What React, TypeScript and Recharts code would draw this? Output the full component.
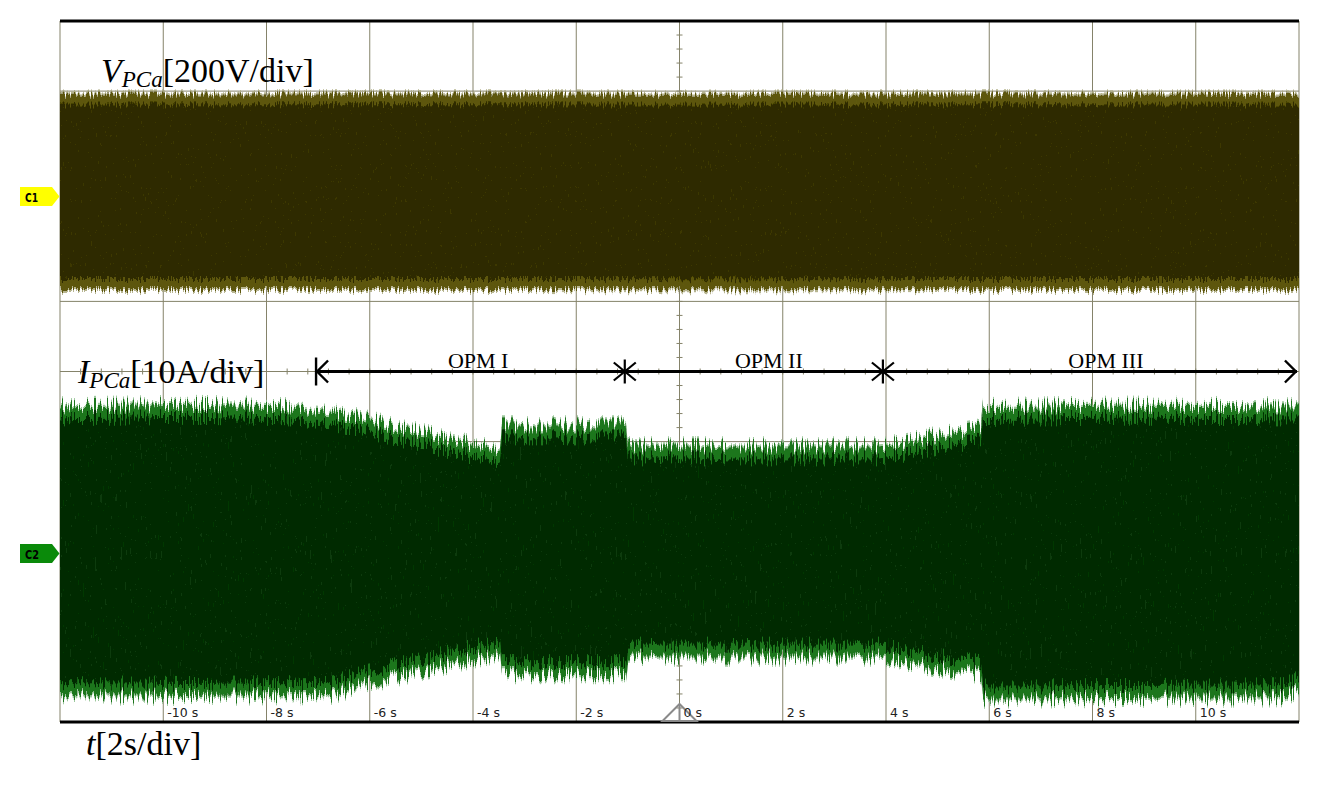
import React from "react";
import {
    ComposedChart,
    Area,
    XAxis,
    YAxis,
    CartesianGrid,
    ReferenceLine,
    ReferenceDot,
} from "recharts";

// time axis, 2 s/div, 12 divisions
const timeTicks = [-12, -10, -8, -6, -4, -2, 0, 2, 4, 6, 8, 10, 12];
// screen divisions, 10 vertically
const divTicks = [-5, -4, -3, -2, -1, 0, 1, 2, 3, 4, 5];

// C1 voltage envelope (V)
const voltageTime = [-12, -6, 0, 6, 12];
const voltageUpper = [283, 284, 283, 284, 283];
const voltageLower = [-283, -283, -284, -283, -283];

// C2 current envelope (A)
const currentTime = [-12, -9.5, -7.54, -6.77, -5.99, -5.03, -4.06, -3.48, -3.44, -1.04, -1.0, 3.88, 4.27, 4.85, 5.43, 5.84, 5.88, 8.5, 11.74, 12];
const currentUpper = [20.9, 21.1, 20.9, 20.2, 18.9, 17.2, 15.5, 14.6, 18.2, 18.2, 15.2, 15.2, 15.6, 16.5, 17.2, 17.8, 20.8, 21.0, 20.9, 20.9];
const currentLower = [-20.9, -21.0, -20.9, -20.9, -19.2, -17.5, -15.8, -14.9, -17.9, -17.9, -15.4, -15.4, -16.1, -16.8, -17.5, -17.9, -21.4, -21.3, -21.2, -19.9];

// operating modes
const modeNames = ["OPM I", "OPM II", "OPM III"];
const modeLabelTime = [-3.9, 1.73, 8.26];
const modeBounds = [-7.04, -1.06, 3.94, 11.96];

const voltageData = voltageTime.map((t, i) => ({ t, lo: voltageLower[i], hi: voltageUpper[i] }));
const currentData = currentTime.map((t, i) => ({ t, lo: currentLower[i], hi: currentUpper[i] }));

const W = 1323;
const H = 785;
const MARGIN = { top: 20, right: 24, bottom: 62, left: 60 };
const GRID = "#85836a";
const SERIF = "'Liberation Serif', 'Times New Roman', serif";
const SANS = "'DejaVu Sans', sans-serif";

const TimeTick = (props: any) => {
    const { x, y, payload } = props;
    const v = payload.value;
    if (Math.abs(v) === 12) return <g />;
    return (
        <text x={x + 4} y={y - 5} fontSize={12.5} fill="#222" fontFamily={SANS}>
            {`${v} s`}
        </text>
    );
};

const NoTick = () => <g />;

// center crosshair with minor ticks
const CrossH = (props: any) => {
    const { x1, y1, x2 } = props;
    const step = (x2 - x1) / 60;
    const ticks = [];
    for (let k = 1; k < 60; k++) {
        ticks.push(<line key={k} x1={x1 + k * step} x2={x1 + k * step} y1={y1 - 3} y2={y1 + 3} />);
    }
    return (
        <g stroke={GRID} strokeWidth={1}>
            <line x1={x1} x2={x2} y1={y1} y2={y1} />
            {ticks}
        </g>
    );
};

const CrossV = (props: any) => {
    const { x1, y1, y2 } = props;
    const top = Math.min(y1, y2);
    const step = Math.abs(y2 - y1) / 50;
    const ticks = [];
    for (let k = 1; k < 50; k++) {
        ticks.push(<line key={k} y1={top + k * step} y2={top + k * step} x1={x1 - 3} x2={x1 + 3} />);
    }
    return (
        <g stroke={GRID} strokeWidth={1}>
            <line x1={x1} x2={x1} y1={y1} y2={y2} />
            {ticks}
        </g>
    );
};

const StartMark = ({ cx, cy }: any) => (
    <g stroke="#000" strokeWidth={2.4} fill="none">
        <line x1={cx} x2={cx} y1={cy - 14} y2={cy + 14} />
        <polyline points={`${cx + 12},${cy - 11} ${cx + 1},${cy} ${cx + 12},${cy + 11}`} />
    </g>
);

const EndMark = ({ cx, cy }: any) => (
    <g stroke="#000" strokeWidth={2.4} fill="none">
        <polyline points={`${cx - 12},${cy - 11} ${cx - 1},${cy} ${cx - 12},${cy + 11}`} />
    </g>
);

const StarMark = ({ cx, cy }: any) => (
    <g stroke="#000" strokeWidth={2.2}>
        <line x1={cx} x2={cx} y1={cy - 12} y2={cy + 12} />
        <line x1={cx - 11} x2={cx + 11} y1={cy - 9} y2={cy + 9} />
        <line x1={cx - 11} x2={cx + 11} y1={cy + 9} y2={cy - 9} />
    </g>
);

const ModeLabel = (name: string) => ({ cx, cy }: any) => (
    <text x={cx} y={cy - 4} textAnchor="middle" fontSize={22} fontFamily={SERIF} fill="#000">
        {name}
    </text>
);

const Trigger = ({ cx, cy }: any) => (
    <g stroke="#8a8a8a" strokeWidth={2} fill="none">
        <polygon points={`${cx},${cy - 18} ${cx - 17},${cy - 1} ${cx + 17},${cy - 1}`} />
        <line x1={cx} x2={cx} y1={cy - 18} y2={cy - 1} />
    </g>
);

// jagged envelope edge with a brighter rim and pale spike tips
const roughFilter = (
    id: string,
    seed: number,
    freq: string,
    scale: number,
    rim: number,
    rimColor: string,
    tipColor: string
) => (
    <filter id={id} filterUnits="userSpaceOnUse" x={0} y={0} width={W} height={H}>
        <feTurbulence type="fractalNoise" baseFrequency={freq} numOctaves={2} seed={seed} result="noise" />
        <feColorMatrix
            in="noise"
            type="matrix"
            values="0 0 0 0 0.5  0 0 0 0 0  0 0 2.6 0 -0.8  0 0 0 0 1"
            result="disp"
        />
        <feDisplacementMap in="SourceGraphic" in2="disp" scale={scale} xChannelSelector="R" yChannelSelector="B" result="shape" />
        <feMorphology in="shape" operator="erode" radius="0 2" result="core2" />
        <feMorphology in="shape" operator="erode" radius={`0 ${rim}`} result="coreR" />
        <feComposite in="shape" in2="core2" operator="out" result="outer" />
        <feComposite in="core2" in2="coreR" operator="out" result="mid" />
        <feFlood floodColor={rimColor} floodOpacity={0.7} result="rimFill" />
        <feComposite in="rimFill" in2="mid" operator="in" result="midCol" />
        <feFlood floodColor={tipColor} floodOpacity={0.85} result="tipFill" />
        <feComposite in="tipFill" in2="outer" operator="in" result="outerCol" />
        <feMerge>
            <feMergeNode in="core2" />
            <feMergeNode in="midCol" />
            <feMergeNode in="outerCol" />
        </feMerge>
    </filter>
);

// shared axes so both layers get the same plot box
const axes = (withBorders: boolean) => [
    <XAxis
        key="xb"
        xAxisId="t"
        type="number"
        dataKey="t"
        domain={[-12, 12]}
        ticks={timeTicks}
        allowDataOverflow
        height={1}
        tickSize={0}
        tickMargin={0}
        tickLine={false}
        axisLine={withBorders ? { stroke: "#000", strokeWidth: 3 } : false}
        tick={withBorders ? <TimeTick /> : <NoTick />}
        interval={0}
    />,
    <XAxis
        key="xt"
        xAxisId="top"
        orientation="top"
        type="number"
        dataKey="t"
        domain={[-12, 12]}
        allowDataOverflow
        height={1}
        tick={false}
        tickLine={false}
        axisLine={withBorders ? { stroke: "#000", strokeWidth: 3 } : false}
    />,
    <YAxis
        key="yl"
        yAxisId="div"
        type="number"
        domain={[-5, 5]}
        ticks={divTicks}
        allowDataOverflow
        width={0}
        tick={<NoTick />}
        tickLine={false}
        axisLine={withBorders ? { stroke: "#8a8a80", strokeWidth: 1.5 } : false}
    />,
    <YAxis
        key="yr"
        yAxisId="divR"
        orientation="right"
        type="number"
        domain={[-5, 5]}
        allowDataOverflow
        width={0}
        tick={false}
        tickLine={false}
        axisLine={withBorders ? { stroke: "#9a9a9a", strokeWidth: 2 } : false}
    />,
    <YAxis key="yv" yAxisId="v" hide type="number" domain={[-1513, 487]} allowDataOverflow />,
    <YAxis key="yi" yAxisId="i" hide type="number" domain={[-24.43, 75.57]} allowDataOverflow />,
];

const layer: React.CSSProperties = { position: "absolute", left: 0, top: 0 };

export default function App() {
    return (
        <div style={{ position: "absolute", left: 0, top: 0, width: W, height: H, background: "#fff" }}>
            {/* graticule layer, under the traces */}
            <div style={layer}>
                <ComposedChart width={W} height={H} margin={MARGIN}>
                    {axes(false)}
                    <CartesianGrid xAxisId="t" yAxisId="div" stroke={GRID} strokeWidth={1} />
                    <ReferenceLine xAxisId="t" yAxisId="div" y={0} shape={<CrossH />} />
                    <ReferenceLine xAxisId="t" yAxisId="div" x={0} shape={<CrossV />} />
                </ComposedChart>
            </div>

            {/* traces and annotations */}
            <div style={layer}>
                <ComposedChart width={W} height={H} margin={MARGIN}>
                    <defs>
                        <pattern id="texC1" patternUnits="userSpaceOnUse" width={5} height={11}>
                            <rect width={5} height={11} fill="#2d2a01" />
                            <line x1={1} x2={1} y1={0} y2={4} stroke="#4c4706" strokeWidth={1} />
                            <line x1={3.5} x2={3.5} y1={6} y2={10} stroke="#3b3703" strokeWidth={1} />
                        </pattern>
                        <pattern id="texC2" patternUnits="userSpaceOnUse" width={5} height={11}>
                            <rect width={5} height={11} fill="#012a01" />
                            <line x1={1} x2={1} y1={0} y2={4} stroke="#0d4a0d" strokeWidth={1} />
                            <line x1={3.5} x2={3.5} y1={6} y2={10} stroke="#063806" strokeWidth={1} />
                        </pattern>
                        {roughFilter("roughC2", 7, "0.55 0.02", 16, 14, "#228a22", "#8cbf8c")}
                        {roughFilter("roughC1", 3, "0.6 0.03", 7, 12, "#6a650c", "#aaa87c")}
                    </defs>
                    {axes(true)}

                    {/* C1 voltage */}
                    <Area
                        xAxisId="t"
                        yAxisId="v"
                        data={voltageData}
                        dataKey={(d: any) => [d.lo, d.hi]}
                        type="linear"
                        fill="url(#texC1)"
                        fillOpacity={1}
                        stroke="none"
                        filter="url(#roughC1)"
                        isAnimationActive={false}
                    />

                    {/* C2 current */}
                    <Area
                        xAxisId="t"
                        yAxisId="i"
                        data={currentData}
                        dataKey={(d: any) => [d.lo, d.hi]}
                        type="linear"
                        fill="url(#texC2)"
                        fillOpacity={1}
                        stroke="none"
                        filter="url(#roughC2)"
                        isAnimationActive={false}
                    />

                    {/* operating mode arrow */}
                    <ReferenceLine
                        xAxisId="t"
                        yAxisId="div"
                        segment={[
                            { x: modeBounds[0], y: 0 },
                            { x: modeBounds[3], y: 0 },
                        ]}
                        stroke="#000"
                        strokeWidth={3}
                    />
                    <ReferenceDot xAxisId="t" yAxisId="div" x={modeBounds[0]} y={0} r={0} shape={StartMark} />
                    <ReferenceDot xAxisId="t" yAxisId="div" x={modeBounds[1]} y={0} r={0} shape={StarMark} />
                    <ReferenceDot xAxisId="t" yAxisId="div" x={modeBounds[2]} y={0} r={0} shape={StarMark} />
                    <ReferenceDot xAxisId="t" yAxisId="div" x={modeBounds[3]} y={0} r={0} shape={EndMark} />
                    {modeNames.map((name, i) => (
                        <ReferenceDot
                            key={name}
                            xAxisId="t"
                            yAxisId="div"
                            x={modeLabelTime[i]}
                            y={0}
                            r={0}
                            shape={ModeLabel(name)}
                        />
                    ))}
                    <ReferenceDot xAxisId="t" yAxisId="div" x={0} y={-5} r={0} shape={Trigger} />
                </ComposedChart>
            </div>

            <svg width={W} height={H} style={{ ...layer, pointerEvents: "none" }}>
                <text x={101} y={82} fontFamily={SERIF} fontSize={34} fill="#000">
                    <tspan fontStyle="italic">V</tspan>
                    <tspan fontStyle="italic" fontSize={23} dy={5}>PCa</tspan>
                    <tspan dy={-5}>[200V/div]</tspan>
                </text>
                <text x={78} y={383} fontFamily={SERIF} fontSize={34} fill="#000">
                    <tspan fontStyle="italic">I</tspan>
                    <tspan fontStyle="italic" fontSize={23} dy={5}>PCa</tspan>
                    <tspan dy={-5}>[10A/div]</tspan>
                </text>
                <text x={86} y={755} fontFamily={SERIF} fontSize={34} fill="#000">
                    <tspan fontStyle="italic">t</tspan>
                    <tspan>[2s/div]</tspan>
                </text>

                <path d="M20,187 L52,187 L59.5,196.5 L52,206 L20,206 Z" fill="#ffff00" />
                <text x={25} y={201.5} fontSize={13} fontWeight="bold" fontFamily={SANS} fill="#000" textLength={13} lengthAdjust="spacingAndGlyphs">C1</text>
                <path d="M20,544 L52,544 L59.5,553.5 L52,563 L20,563 Z" fill="#0a8a0a" />
                <text x={25} y={558.5} fontSize={13} fontWeight="bold" fontFamily={SANS} fill="#000" textLength={14} lengthAdjust="spacingAndGlyphs">C2</text>
            </svg>
        </div>
    );
}
